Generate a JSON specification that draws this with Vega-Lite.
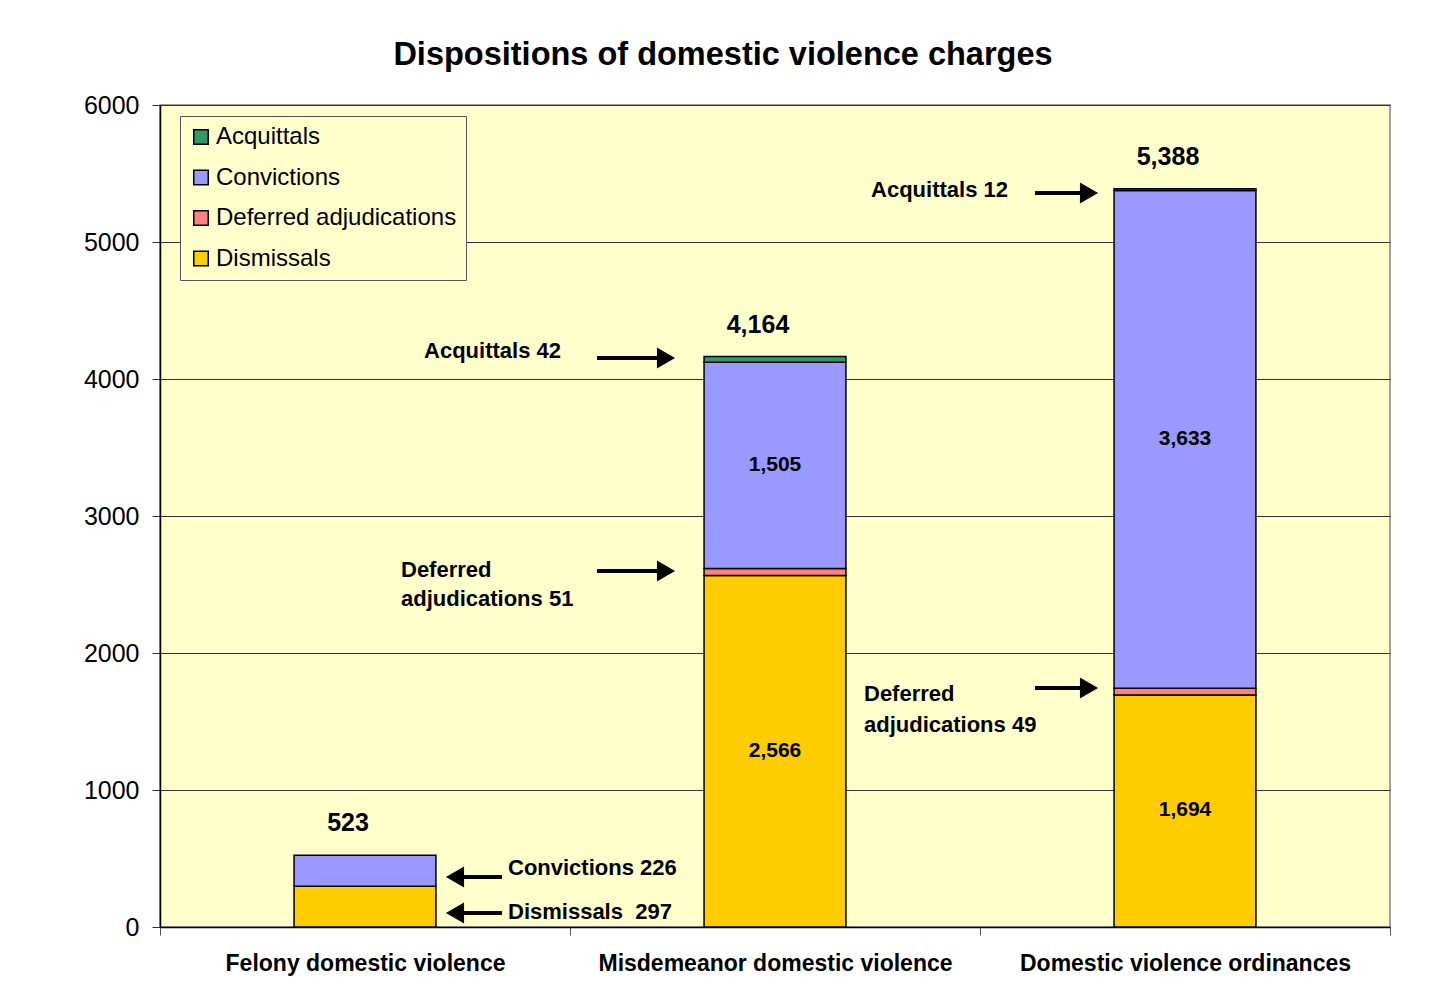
{
  "$schema": "https://vega.github.io/schema/vega-lite/v6.json",
  "autosize": "none",
  "width": 1230,
  "height": 822,
  "padding": {"left": 160, "top": 105, "right": 55, "bottom": 74},
  "background": "white",
  "title": {
    "text": "Dispositions of domestic violence charges",
    "font": "Liberation Sans",
    "fontSize": 32.5,
    "fontWeight": "bold",
    "color": "black",
    "anchor": "middle",
    "frame": "group",
    "dx": -52,
    "offset": 22
  },
  "config": {
    "font": "Liberation Sans",
    "view": {"fill": "#FFFFCC", "stroke": "#808080", "strokeWidth": 1.5}
  },
  "datasets": {
    "bars": [
      {"cat": "Felony domestic violence", "type": "Dismissals", "value": 297},
      {"cat": "Felony domestic violence", "type": "Convictions", "value": 226},
      {"cat": "Misdemeanor domestic violence", "type": "Dismissals", "value": 2566},
      {"cat": "Misdemeanor domestic violence", "type": "Deferred adjudications", "value": 51},
      {"cat": "Misdemeanor domestic violence", "type": "Convictions", "value": 1505},
      {"cat": "Misdemeanor domestic violence", "type": "Acquittals", "value": 42},
      {"cat": "Domestic violence ordinances", "type": "Dismissals", "value": 1694},
      {"cat": "Domestic violence ordinances", "type": "Deferred adjudications", "value": 49},
      {"cat": "Domestic violence ordinances", "type": "Convictions", "value": 3633},
      {"cat": "Domestic violence ordinances", "type": "Acquittals", "value": 12}
    ],
    "inner": [
      {"cat": "Misdemeanor domestic violence", "label": "1,505", "ty": 3372},
      {"cat": "Misdemeanor domestic violence", "label": "2,566", "ty": 1285},
      {"cat": "Domestic violence ordinances", "label": "3,633", "ty": 3562},
      {"cat": "Domestic violence ordinances", "label": "1,694", "ty": 854}
    ],
    "totals": [
      {"cat": "Felony domestic violence", "label": "523", "total": 523},
      {"cat": "Misdemeanor domestic violence", "label": "4,164", "total": 4164},
      {"cat": "Domestic violence ordinances", "label": "5,388", "total": 5388}
    ],
    "notes": [
      {"cat": "Felony domestic violence", "grp": "fel", "label": "Convictions 226", "ty": 431, "ay": 365},
      {"cat": "Felony domestic violence", "grp": "fel", "label": "Dismissals\u00a0\u00a0297", "ty": 110, "ay": 102},
      {"cat": "Misdemeanor domestic violence", "grp": "misacq", "label": "Acquittals 42", "ty": 4204, "ay": 4153},
      {"cat": "Misdemeanor domestic violence", "grp": "misdef", "label": ["Deferred", "adjudications 51"], "ty": 2606, "ay": 2599},
      {"cat": "Domestic violence ordinances", "grp": "ordacq", "label": "Acquittals 12", "ty": 5380, "ay": 5358},
      {"cat": "Domestic violence ordinances", "grp": "orddef", "label": ["Deferred", "adjudications 49"], "ty": 1701, "ay": 1745}
    ]
  },
  "encoding": {
    "x": {
      "field": "cat",
      "type": "nominal",
      "sort": ["Felony domestic violence", "Misdemeanor domestic violence", "Domestic violence ordinances"],
      "scale": {"paddingInner": 0, "paddingOuter": 0},
      "axis": {
        "title": null,
        "labelAngle": 0,
        "labelFont": "Liberation Sans",
        "labelFontSize": 23,
        "labelFontWeight": "bold",
        "labelColor": "black",
        "labelLimit": 0,
        "labelPadding": 17,
        "tickBand": "extent",
        "tickSize": 8,
        "tickColor": "#555",
        "domainColor": "black",
        "domainWidth": 1.5
      }
    }
  },
  "layer": [
    {
      "data": {"name": "bars"},
      "mark": {"type": "bar", "width": {"band": 0.346}, "stroke": "black", "strokeWidth": 1.5},
      "encoding": {
        "y": {
          "field": "value",
          "type": "quantitative",
          "stack": "zero",
          "title": null,
          "scale": {"domain": [0, 6000], "nice": false},
          "axis": {
            "values": [0, 1000, 2000, 3000, 4000, 5000, 6000],
            "format": "d",
            "labelFont": "Liberation Sans",
            "labelFontSize": 25,
            "labelColor": "black",
            "labelPadding": 13,
            "tickSize": 8,
            "tickColor": "#333",
            "domainColor": "black",
            "domainWidth": 1.5,
            "grid": true,
            "gridColor": "#333",
            "gridWidth": 1
          }
        },
        "color": {
          "field": "type",
          "type": "nominal",
          "scale": {
            "domain": ["Acquittals", "Convictions", "Deferred adjudications", "Dismissals"],
            "range": ["#339966", "#9999FF", "#FF8080", "#FFCC00"]
          },
          "legend": {
            "title": null,
            "orient": "none",
            "legendX": 20,
            "legendY": 11,
            "symbolType": "square",
            "symbolSize": 210,
            "symbolStrokeColor": "black",
            "symbolStrokeWidth": 1.5,
            "symbolOpacity": 1,
            "labelFont": "Liberation Sans",
            "labelFontSize": 24,
            "labelColor": "black",
            "labelOffset": 3,
            "labelLimit": 0,
            "rowPadding": 16.5,
            "padding": 9,
            "fillColor": "#FFFFCC",
            "strokeColor": "#555"
          }
        },
        "order": {"field": "type", "sort": "descending"}
      }
    },
    {
      "data": {"name": "inner"},
      "mark": {"type": "text", "fontSize": 21, "fontWeight": "bold", "color": "black", "baseline": "middle"},
      "encoding": {
        "y": {"field": "ty", "type": "quantitative", "title": null},
        "text": {"field": "label"}
      }
    },
    {
      "data": {"name": "totals"},
      "mark": {"type": "text", "fontSize": 25, "fontWeight": "bold", "color": "black", "baseline": "middle", "dx": -17, "dy": -32},
      "encoding": {
        "y": {"field": "total", "type": "quantitative", "title": null},
        "text": {"field": "label"}
      }
    },
    {
      "data": {"name": "notes"},
      "transform": [{"filter": "datum.grp == 'fel'"}],
      "mark": {"type": "rule", "color": "black", "strokeWidth": 4, "xOffset": 92, "x2Offset": 137},
      "encoding": {
        "y": {"field": "ay", "type": "quantitative", "title": null},
        "x2": {"field": "cat"}
      }
    },
    {
      "data": {"name": "notes"},
      "transform": [{"filter": "datum.grp == 'fel'"}],
      "mark": {"type": "point", "shape": "triangle-left", "filled": true, "color": "black", "opacity": 1, "size": 440, "xOffset": 90},
      "encoding": {
        "y": {"field": "ay", "type": "quantitative", "title": null}
      }
    },
    {
      "data": {"name": "notes"},
      "transform": [{"filter": "datum.grp == 'misacq' || datum.grp == 'misdef'"}],
      "mark": {"type": "rule", "color": "black", "strokeWidth": 4, "xOffset": -178, "x2Offset": -112},
      "encoding": {
        "y": {"field": "ay", "type": "quantitative", "title": null},
        "x2": {"field": "cat"}
      }
    },
    {
      "data": {"name": "notes"},
      "transform": [{"filter": "datum.grp == 'misacq' || datum.grp == 'misdef'"}],
      "mark": {"type": "point", "shape": "triangle-right", "filled": true, "color": "black", "opacity": 1, "size": 440, "xOffset": -109},
      "encoding": {
        "y": {"field": "ay", "type": "quantitative", "title": null}
      }
    },
    {
      "data": {"name": "notes"},
      "transform": [{"filter": "datum.grp == 'ordacq' || datum.grp == 'orddef'"}],
      "mark": {"type": "rule", "color": "black", "strokeWidth": 4, "xOffset": -150, "x2Offset": -99},
      "encoding": {
        "y": {"field": "ay", "type": "quantitative", "title": null},
        "x2": {"field": "cat"}
      }
    },
    {
      "data": {"name": "notes"},
      "transform": [{"filter": "datum.grp == 'ordacq' || datum.grp == 'orddef'"}],
      "mark": {"type": "point", "shape": "triangle-right", "filled": true, "color": "black", "opacity": 1, "size": 440, "xOffset": -96},
      "encoding": {
        "y": {"field": "ay", "type": "quantitative", "title": null}
      }
    },
    {
      "data": {"name": "notes"},
      "transform": [{"filter": "datum.grp == 'fel'"}],
      "mark": {"type": "text", "fontSize": 22, "fontWeight": "bold", "color": "black", "align": "left", "baseline": "middle", "dx": 143},
      "encoding": {
        "y": {"field": "ty", "type": "quantitative", "title": null},
        "text": {"field": "label"}
      }
    },
    {
      "data": {"name": "notes"},
      "transform": [{"filter": "datum.grp == 'misacq'"}],
      "mark": {"type": "text", "fontSize": 22, "fontWeight": "bold", "color": "black", "align": "right", "baseline": "middle", "dx": -214},
      "encoding": {
        "y": {"field": "ty", "type": "quantitative", "title": null},
        "text": {"field": "label"}
      }
    },
    {
      "data": {"name": "notes"},
      "transform": [{"filter": "datum.grp == 'ordacq'"}],
      "mark": {"type": "text", "fontSize": 22, "fontWeight": "bold", "color": "black", "align": "right", "baseline": "middle", "dx": -177},
      "encoding": {
        "y": {"field": "ty", "type": "quantitative", "title": null},
        "text": {"field": "label"}
      }
    },
    {
      "data": {"name": "notes"},
      "transform": [{"filter": "datum.grp == 'misdef'"}],
      "mark": {"type": "text", "fontSize": 22, "fontWeight": "bold", "color": "black", "align": "left", "baseline": "middle", "lineHeight": 29, "dx": -374},
      "encoding": {
        "y": {"field": "ty", "type": "quantitative", "title": null},
        "text": {"field": "label"}
      }
    },
    {
      "data": {"name": "notes"},
      "transform": [{"filter": "datum.grp == 'orddef'"}],
      "mark": {"type": "text", "fontSize": 22, "fontWeight": "bold", "color": "black", "align": "left", "baseline": "middle", "lineHeight": 31, "dx": -321},
      "encoding": {
        "y": {"field": "ty", "type": "quantitative", "title": null},
        "text": {"field": "label"}
      }
    }
  ]
}
